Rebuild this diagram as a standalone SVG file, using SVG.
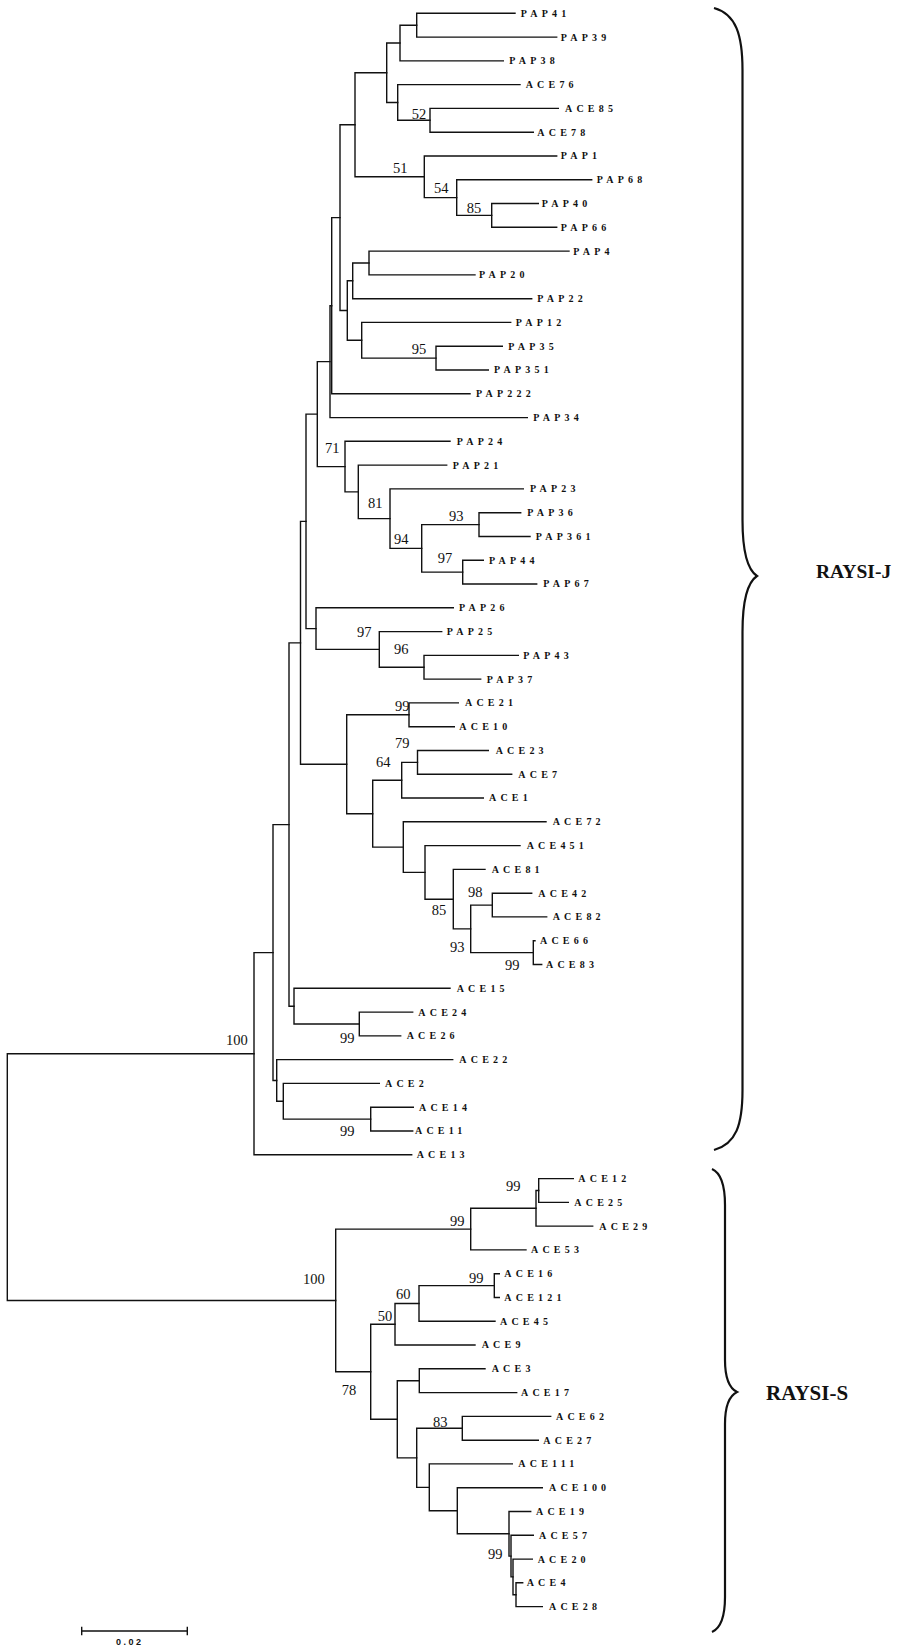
<svg xmlns="http://www.w3.org/2000/svg" width="898" height="1647" viewBox="0 0 898 1647">
<style>
.br{fill:none;stroke:#111;stroke-width:1.4;stroke-linecap:square}
.lf{font-family:"Liberation Serif",serif;font-weight:bold;font-size:10px;letter-spacing:4.2px;fill:#111}
.bs{font-family:"Liberation Serif",serif;font-size:14.5px;fill:#111}
.cl{font-family:"Liberation Serif",serif;font-weight:bold;fill:#111}
.brace{fill:none;stroke:#111;stroke-width:2.2}
</style>
<rect width="898" height="1647" fill="#fff"/>
<g id="connectors" class="br">
<path d="M515 13.3 H416.7 V37.1 H556.7"/>
<path d="M416.7 25.2 H400 V60.9 H503.3"/>
<path d="M558.3 108.4 H430 V132.2 H533.3"/>
<path d="M520 84.6 H397.7 V120.3 H430"/>
<path d="M400 43 H386.7 V102.5 H397.7"/>
<path d="M538.3 203.5 H491.7 V227.3 H556.7"/>
<path d="M591.7 179.8 H456.7 V215.4 H491.7"/>
<path d="M556.7 156 H424.3 V197.6 H456.7"/>
<path d="M386.7 72.7 H355 V176.8 H424.3"/>
<path d="M569 251.1 H369 V274.9 H475"/>
<path d="M369 263 H352.7 V298.7 H531.7"/>
<path d="M502.3 346.2 H436 V370 H488.3"/>
<path d="M510.7 322.4 H361.7 V358.1 H436"/>
<path d="M352.7 280.8 H347.3 V340.3 H361.7"/>
<path d="M355 124.7 H340 V310.5 H347.3"/>
<path d="M340 217.6 H331.7 V393.8 H470"/>
<path d="M331.7 305.7 H330 V417.6 H527.3"/>
<path d="M520.7 512.7 H479 V536.5 H530"/>
<path d="M483.3 560.2 H462.7 V584 H536.7"/>
<path d="M479 524.6 H421.7 V572.1 H462.7"/>
<path d="M523.3 488.9 H390 V548.4 H421.7"/>
<path d="M446.7 465.1 H358.3 V518.6 H390"/>
<path d="M450 441.3 H345 V491.9 H358.3"/>
<path d="M330 361.6 H317.3 V466.6 H345"/>
<path d="M518.3 655.4 H424 V679.1 H480.7"/>
<path d="M441.7 631.6 H379.3 V667.3 H424"/>
<path d="M453.3 607.8 H316 V649.4 H379.3"/>
<path d="M317.3 414.1 H306 V628.6 H316"/>
<path d="M458.3 702.9 H409 V726.7 H454.3"/>
<path d="M488.3 750.5 H417.5 V774.3 H511.7"/>
<path d="M417.5 762.4 H401.7 V798 H483.3"/>
<path d="M535 940.7 H533.3 V964.5 H541.7"/>
<path d="M531.7 893.2 H492.3 V916.9 H546.7"/>
<path d="M492.3 905.1 H470.7 V952.6 H533.3"/>
<path d="M485 869.4 H453.3 V928.9 H470.7"/>
<path d="M520 845.6 H425 V899.2 H453.3"/>
<path d="M546 821.8 H403.3 V872.4 H425"/>
<path d="M401.7 780.2 H372.7 V847.1 H403.3"/>
<path d="M409 714.8 H346.7 V813.7 H372.7"/>
<path d="M306 521.4 H300.5 V764.3 H346.7"/>
<path d="M412.7 1012.1 H359.3 V1035.9 H400.7"/>
<path d="M450 988.3 H294 V1024 H359.3"/>
<path d="M300.5 642.9 H289 V1006.2 H294"/>
<path d="M413.3 1107.2 H370.7 V1131 H412.7"/>
<path d="M379.3 1083.4 H283.3 V1119.1 H370.7"/>
<path d="M452.7 1059.6 H276.7 V1101.3 H283.3"/>
<path d="M289 824.6 H273 V1080.5 H276.7"/>
<path d="M273 952.6 H254 V1154.8 H411.7"/>
<path d="M573.3 1178.6 H538.7 V1202.4 H568.3"/>
<path d="M538.7 1190.5 H536 V1226.1 H592.7"/>
<path d="M536 1208.3 H470.7 V1249.9 H526"/>
<path d="M499.3 1273.7 H494.3 V1297.5 H499.3"/>
<path d="M494.3 1285.6 H419 V1321.3 H495"/>
<path d="M419 1303.5 H395 V1345 H475"/>
<path d="M485 1368.8 H419.3 V1392.6 H516.7"/>
<path d="M550.7 1416.4 H462.3 V1440.2 H538.3"/>
<path d="M522.7 1582.8 H516 V1606.6 H542.3"/>
<path d="M532.3 1559.1 H513 V1594.7 H516"/>
<path d="M533.3 1535.3 H511 V1576.9 H513"/>
<path d="M530.7 1511.5 H509 V1556.1 H511"/>
<path d="M542.3 1487.7 H457.3 V1533.8 H509"/>
<path d="M512.3 1463.9 H429.3 V1510.8 H457.3"/>
<path d="M462.3 1428.3 H416.7 V1487.4 H429.3"/>
<path d="M419.3 1380.7 H397.3 V1457.9 H416.7"/>
<path d="M395 1324.3 H370.7 V1419.3 H397.3"/>
<path d="M470.7 1229.1 H335.7 V1371.8 H370.7"/>
<path d="M254 1053.7 H7.3 V1300.5 H335.7"/>
</g>
<g id="leaves" class="lf">
<g id="PAP41"><text x="520.7" y="16.7">PAP41</text></g>
<g id="PAP39"><text x="560.7" y="40.5">PAP39</text></g>
<g id="PAP38"><text x="509.3" y="64.3">PAP38</text></g>
<g id="ACE76"><text x="525.7" y="88">ACE76</text></g>
<g id="ACE85"><text x="565" y="111.8">ACE85</text></g>
<g id="ACE78"><text x="537.3" y="135.6">ACE78</text></g>
<g id="PAP1"><text x="560.7" y="159.4">PAP1</text></g>
<g id="PAP68"><text x="596.7" y="183.2">PAP68</text></g>
<g id="PAP40"><text x="541.7" y="206.9">PAP40</text></g>
<g id="PAP66"><text x="560.7" y="230.7">PAP66</text></g>
<g id="PAP4"><text x="573.3" y="254.5">PAP4</text></g>
<g id="PAP20"><text x="479" y="278.3">PAP20</text></g>
<g id="PAP22"><text x="537.3" y="302.1">PAP22</text></g>
<g id="PAP12"><text x="515.7" y="325.8">PAP12</text></g>
<g id="PAP35"><text x="508.3" y="349.6">PAP35</text></g>
<g id="PAP351"><text x="494" y="373.4">PAP351</text></g>
<g id="PAP222"><text x="476" y="397.2">PAP222</text></g>
<g id="PAP34"><text x="533.3" y="421">PAP34</text></g>
<g id="PAP24"><text x="456.7" y="444.7">PAP24</text></g>
<g id="PAP21"><text x="452.7" y="468.5">PAP21</text></g>
<g id="PAP23"><text x="530" y="492.3">PAP23</text></g>
<g id="PAP36"><text x="527.3" y="516.1">PAP36</text></g>
<g id="PAP361"><text x="535.7" y="539.9">PAP361</text></g>
<g id="PAP44"><text x="489" y="563.6">PAP44</text></g>
<g id="PAP67"><text x="543.3" y="587.4">PAP67</text></g>
<g id="PAP26"><text x="459" y="611.2">PAP26</text></g>
<g id="PAP25"><text x="446.7" y="635">PAP25</text></g>
<g id="PAP43"><text x="523.3" y="658.8">PAP43</text></g>
<g id="PAP37"><text x="486.7" y="682.5">PAP37</text></g>
<g id="ACE21"><text x="465" y="706.3">ACE21</text></g>
<g id="ACE10"><text x="459.3" y="730.1">ACE10</text></g>
<g id="ACE23"><text x="495.7" y="753.9">ACE23</text></g>
<g id="ACE7"><text x="518.3" y="777.7">ACE7</text></g>
<g id="ACE1"><text x="489" y="801.4">ACE1</text></g>
<g id="ACE72"><text x="552.7" y="825.2">ACE72</text></g>
<g id="ACE451"><text x="526.7" y="849">ACE451</text></g>
<g id="ACE81"><text x="491.7" y="872.8">ACE81</text></g>
<g id="ACE42"><text x="538.3" y="896.6">ACE42</text></g>
<g id="ACE82"><text x="552.7" y="920.3">ACE82</text></g>
<g id="ACE66"><text x="540" y="944.1">ACE66</text></g>
<g id="ACE83"><text x="546" y="967.9">ACE83</text></g>
<g id="ACE15"><text x="456.7" y="991.7">ACE15</text></g>
<g id="ACE24"><text x="418.3" y="1015.5">ACE24</text></g>
<g id="ACE26"><text x="406.7" y="1039.3">ACE26</text></g>
<g id="ACE22"><text x="459.3" y="1063">ACE22</text></g>
<g id="ACE2"><text x="385" y="1086.8">ACE2</text></g>
<g id="ACE14"><text x="419" y="1110.6">ACE14</text></g>
<g id="ACE11"><text x="415" y="1134.4">ACE11</text></g>
<g id="ACE13"><text x="416.7" y="1158.2">ACE13</text></g>
<g id="ACE12"><text x="578.3" y="1182">ACE12</text></g>
<g id="ACE25"><text x="574.3" y="1205.8">ACE25</text></g>
<g id="ACE29"><text x="599.3" y="1229.5">ACE29</text></g>
<g id="ACE53"><text x="531" y="1253.3">ACE53</text></g>
<g id="ACE16"><text x="504.3" y="1277.1">ACE16</text></g>
<g id="ACE121"><text x="504.3" y="1300.9">ACE121</text></g>
<g id="ACE45"><text x="500" y="1324.7">ACE45</text></g>
<g id="ACE9"><text x="481.7" y="1348.4">ACE9</text></g>
<g id="ACE3"><text x="491.7" y="1372.2">ACE3</text></g>
<g id="ACE17"><text x="521" y="1396">ACE17</text></g>
<g id="ACE62"><text x="556" y="1419.8">ACE62</text></g>
<g id="ACE27"><text x="543.3" y="1443.6">ACE27</text></g>
<g id="ACE111"><text x="518.3" y="1467.3">ACE111</text></g>
<g id="ACE100"><text x="549" y="1491.1">ACE100</text></g>
<g id="ACE19"><text x="536" y="1514.9">ACE19</text></g>
<g id="ACE57"><text x="539" y="1538.7">ACE57</text></g>
<g id="ACE20"><text x="537.7" y="1562.5">ACE20</text></g>
<g id="ACE4"><text x="526.7" y="1586.2">ACE4</text></g>
<g id="ACE28"><text x="549" y="1610">ACE28</text></g>
</g>
<g id="bootstrap" class="bs">
<g id="bs-c"><text x="411.7" y="119">52</text></g>
<g id="bs-h"><text x="393" y="172.7">51</text></g>
<g id="bs-g"><text x="434" y="192.7">54</text></g>
<g id="bs-f"><text x="466.7" y="212.7">85</text></g>
<g id="bs-n"><text x="411.7" y="354">95</text></g>
<g id="bs-t"><text x="325" y="453.3">71</text></g>
<g id="bs-v"><text x="368" y="508.3">81</text></g>
<g id="bs-x"><text x="449" y="520.7">93</text></g>
<g id="bs-w"><text x="394" y="544.3">94</text></g>
<g id="bs-y"><text x="437.7" y="563.3">97</text></g>
<g id="bs-aa"><text x="357" y="637.3">97</text></g>
<g id="bs-ab"><text x="394" y="654.3">96</text></g>
<g id="bs-ae"><text x="395" y="711">99</text></g>
<g id="bs-ap"><text x="395" y="748.3">79</text></g>
<g id="bs-aq"><text x="376" y="766.7">64</text></g>
<g id="bs-av"><text x="468" y="896.7">98</text></g>
<g id="bs-at"><text x="431.7" y="915">85</text></g>
<g id="bs-au"><text x="450" y="952.3">93</text></g>
<g id="bs-aw"><text x="505" y="970">99</text></g>
<g id="bs-aj"><text x="340" y="1042.7">99</text></g>
<g id="bs-an"><text x="340" y="1136">99</text></g>
<g id="bs-ao"><text x="226" y="1045">100</text></g>
<g id="bs-s"><text x="303" y="1284.3">100</text></g>
<g id="bs-bc"><text x="506" y="1190.7">99</text></g>
<g id="bs-ba"><text x="450" y="1225.7">99</text></g>
<g id="bs-bd"><text x="469" y="1283.3">99</text></g>
<g id="bs-be"><text x="396" y="1299.3">60</text></g>
<g id="bs-bf"><text x="377.7" y="1320.7">50</text></g>
<g id="bs-bg"><text x="341.7" y="1395">78</text></g>
<g id="bs-bk"><text x="433" y="1426.7">83</text></g>
<g id="bs-bn"><text x="488" y="1559.3">99</text></g>
</g>
<g id="clade-J">
<path class="brace" d="M714 8 C736 14 742.5 35 742.5 70 V520 C742.5 555 748 570 757 576 C748 582 742.5 597 742.5 632 V1090 C742.5 1125 736 1144 714 1150"/>
<text class="cl" x="816" y="578" font-size="19.5">RAYSI-J</text>
</g>
<g id="clade-S">
<path class="brace" d="M712 1169 C721 1173 725 1185 725 1205 V1360 C725 1378 729 1388 737 1392 C729 1396 725 1406 725 1424 V1597 C725 1617 721 1628 712 1632"/>
<text class="cl" x="766" y="1400" font-size="21">RAYSI-S</text>
</g>
<g id="scale-bar">
<path class="br" d="M81.7 1631 H187.3 M81.7 1627.5 V1634.5 M187.3 1627.5 V1634.5"/>
<text x="116" y="1645" font-family="Liberation Sans, sans-serif" font-weight="bold" font-size="9" letter-spacing="2.5" fill="#111">0.02</text>
</g>
</svg>
